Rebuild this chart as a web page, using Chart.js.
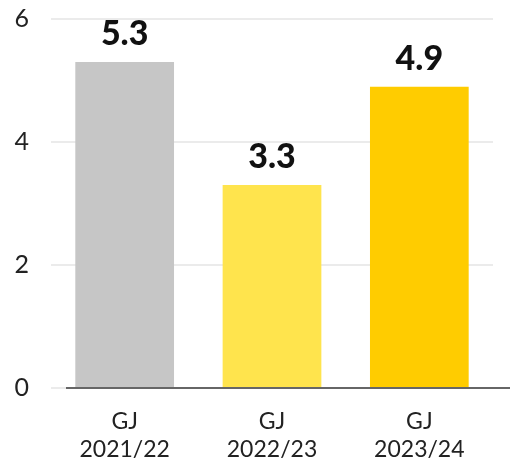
<!DOCTYPE html>
<html>
<head>
<meta charset="utf-8">
<script src="https://cdn.jsdelivr.net/npm/chart.js@4"></script>
<style>
  html, body { margin: 0; padding: 0; background: #fff; }
  #wrap { width: 510px; height: 461px; }
</style>
</head>
<body>
<div id="wrap"><canvas id="chart"></canvas></div>
<script>
const categories = [["GJ", "2021/22"], ["GJ", "2022/23"], ["GJ", "2023/24"]];
const values = [5.3, 3.3, 4.9];
const barColors = ["#c6c6c6", "#ffe44d", "#ffcc00"];
const yTicks = [0, 2, 4, 6];

// value labels above the bars
const valueLabels = {
    id: "valueLabels",
    afterDatasetsDraw(chart) {
        const ctx = chart.ctx;
        const meta = chart.getDatasetMeta(0);
        ctx.save();
        ctx.font = "900 34px Lato, 'DejaVu Sans', sans-serif";
        ctx.fillStyle = "#111";
        ctx.textAlign = "center";
        ctx.textBaseline = "alphabetic";
        meta.data.forEach((bar, i) => {
            ctx.fillText(values[i].toFixed(1), bar.x, bar.y - 17);
        });
        ctx.restore();
    },
};

// dark base line, runs to the right edge
const baseLine = {
    id: "baseLine",
    afterDatasetsDraw(chart) {
        const ctx = chart.ctx;
        const y = chart.scales.y.getPixelForValue(0);
        ctx.save();
        ctx.strokeStyle = "#666";
        ctx.lineWidth = 2;
        ctx.beginPath();
        ctx.moveTo(chart.chartArea.left + 15, y);
        ctx.lineTo(chart.width, y);
        ctx.stroke();
        ctx.restore();
    },
};

let ctx = document.getElementById("chart").getContext("2d");
let chart = new Chart(ctx, {
    type: "bar",
    data: {
        labels: categories,
        datasets: [
            {
                data: values,
                backgroundColor: barColors,
                categoryPercentage: 1,
                barPercentage: 0.67,
            },
        ],
    },
    options: {
        maintainAspectRatio: false,
        responsive: true,
        animation: false,
        layout: { padding: { top: 19, right: 17, left: 0, bottom: 0 } },
        plugins: {
            legend: { display: false },
            tooltip: { enabled: false },
        },
        scales: {
            x: {
                grid: { display: false },
                border: { display: false },
                afterFit(axis) {
                    axis.height = 73;
                    axis.paddingLeft = 0;
                    axis.paddingRight = 0;
                },
                ticks: {
                    color: "#222",
                    font: { family: "Lato, sans-serif", size: 23, lineHeight: 1.2 },
                    padding: 12,
                },
            },
            y: {
                min: 0,
                max: 6,
                afterBuildTicks(axis) {
                    axis.ticks = yTicks.map((v) => ({ value: v }));
                },
                afterFit(axis) {
                    axis.width = 51;
                    axis.paddingTop = 0;
                    axis.paddingBottom = 0;
                },
                grid: {
                    color: "#ebebeb",
                    lineWidth: 2,
                    drawTicks: false,
                },
                border: { display: false },
                ticks: {
                    color: "#222",
                    font: { family: "Lato, sans-serif", size: 25 },
                    padding: 22,
                },
            },
        },
    },
    plugins: [valueLabels, baseLine],
});
</script>
</body>
</html>
